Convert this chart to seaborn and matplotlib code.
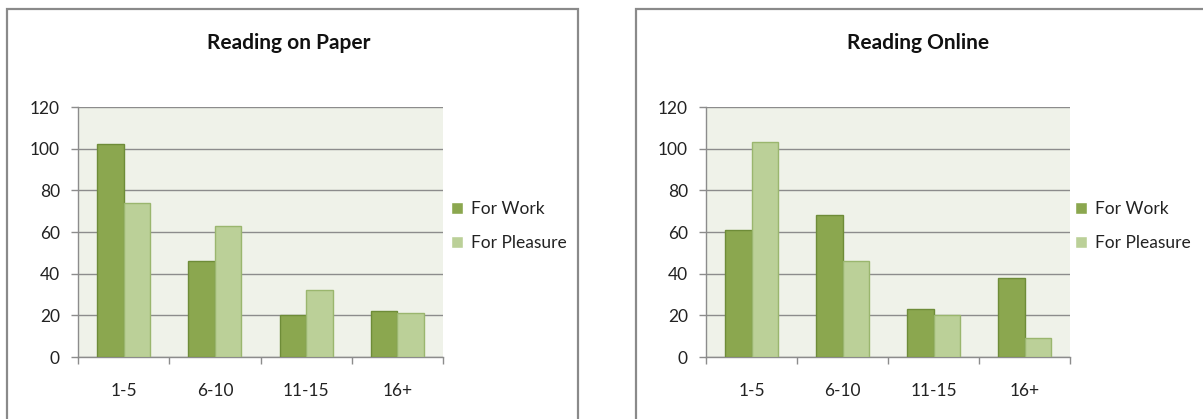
import matplotlib
matplotlib.use("Agg")
import matplotlib.pyplot as plt
from matplotlib.patches import Rectangle
import seaborn as sns
import pandas as pd

# Data
categories = ["1-5", "6-10", "11-15", "16+"]
series_names = ["For Work", "For Pleasure"]
paper_work = [102, 46, 20, 22]
paper_pleasure = [74, 63, 32, 21]
online_work = [61, 68, 23, 38]
online_pleasure = [103, 46, 20, 9]
y_ticks = [0, 20, 40, 60, 80, 100, 120]
titles = ["Reading on Paper", "Reading Online"]

FACE = {"For Work": "#8BA74F", "For Pleasure": "#BBD098"}
EDGE = {"For Work": "#6E8C38", "For Pleasure": "#9AB66E"}
PLOT_BG = "#EFF2E9"
GRID = "#8C8C8C"
TEXT = "#222222"

sns.set_theme(style="white")
plt.rcParams["font.family"] = ["Lato", "DejaVu Sans"]

W, H = 1203, 419
fig = plt.figure(figsize=(W / 100, H / 100), dpi=100)
fig.patch.set_facecolor("white")


def to_long(work, pleasure):
    rows = []
    for c, w, p in zip(categories, work, pleasure):
        rows.append({"Age": c, "Purpose": series_names[0], "Value": w})
        rows.append({"Age": c, "Purpose": series_names[1], "Value": p})
    return pd.DataFrame(rows)


panels = [
    # (frame left, frame right, axes left, axes right, title center, legend x)
    (7, 578, 78, 443, 289, 444),
    (636, 1210, 706, 1070, 918, 1068),
]
datasets = [(paper_work, paper_pleasure), (online_work, online_pleasure)]

for (fx0, fx1, ax0, ax1, tcx, lgx), (work, pleasure), title in zip(panels, datasets, titles):
    # chart frame
    fig.patches.append(Rectangle((fx0 / W, -0.1), (fx1 - fx0) / W, (H - 9) / H + 0.1,
                                 transform=fig.transFigure, fill=False,
                                 edgecolor="#8A8A8A", linewidth=1.6, zorder=0))
    ax = fig.add_axes([ax0 / W, (H - 357) / H, (ax1 - ax0) / W, 250 / H])
    df = to_long(work, pleasure)
    sns.barplot(data=df, x="Age", y="Value", hue="Purpose", order=categories,
                hue_order=series_names, palette=FACE, width=0.58, ax=ax,
                saturation=1, legend=True)
    for bars, name in zip(ax.containers, series_names):
        for b in bars:
            b.set_edgecolor(EDGE[name])
            b.set_linewidth(1.0)
            b.set_zorder(3)
    ax.set_facecolor(PLOT_BG)
    ax.set_ylim(0, 120)
    ax.set_xlim(-0.5, 3.5)
    ax.set_yticks(y_ticks)
    ax.yaxis.grid(True, color=GRID, linewidth=1.0)
    ax.set_axisbelow(True)
    ax.set_xlabel("")
    ax.set_ylabel("")
    for s in ["top", "right"]:
        ax.spines[s].set_visible(False)
    for s in ["left", "bottom"]:
        ax.spines[s].set_color(GRID)
        ax.spines[s].set_linewidth(1.0)
    ax.tick_params(axis="y", which="major", left=True, length=5, width=1,
                   color=GRID, labelsize=12.5, labelcolor=TEXT, pad=8)
    ax.set_xticks(range(len(categories)))
    ax.set_xticklabels(categories)
    ax.tick_params(axis="x", which="major", bottom=False, labelsize=12.5,
                   labelcolor=TEXT, pad=13)
    ax.set_xticks([i - 0.5 for i in range(len(categories) + 1)], minor=True)
    ax.tick_params(axis="x", which="minor", bottom=True, length=5, width=1,
                   color=GRID, direction="out")

    handles, labels = ax.get_legend_handles_labels()
    ax.legend(handles, labels, loc="center left",
              bbox_to_anchor=((lgx - ax0) / (ax1 - ax0), (357 - 226) / 250),
              frameon=False, fontsize=12.5, handlelength=0.7, handleheight=0.7,
              handletextpad=0.45, labelspacing=1.05, borderaxespad=0,
              labelcolor=TEXT)

    fig.text(tcx / W, 1 - 43 / H, title, ha="center", va="center",
             fontsize=15, fontweight="bold", color="#111111")

fig.savefig("out.png", dpi=100, facecolor="white")
